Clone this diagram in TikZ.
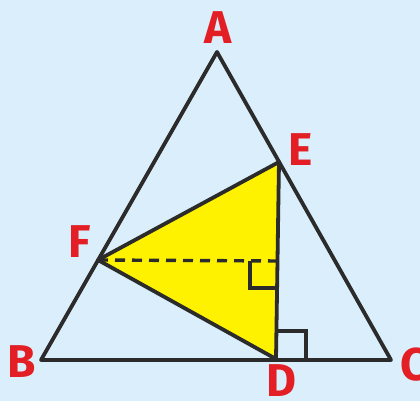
\documentclass[tikz,border=0pt]{standalone}
\usepackage{fontspec}
\setmainfont{Fira Sans}
\definecolor{bg}{HTML}{DAEEFB}
\definecolor{lbl}{HTML}{E31E24}
\definecolor{ln}{HTML}{2B2B2B}
\definecolor{yel}{HTML}{FFF200}
\begin{document}
\begin{tikzpicture}[x=1pt,y=1pt,
  edge/.style={draw=ln,line width=3.8pt,line join=round},
  thin/.style={draw=ln,line width=3.4pt},
  lab/.style={text=lbl,font=\fontsize{46}{46}\selectfont\bfseries,inner sep=0pt}]
\fill[bg] (0,0) rectangle (420,401);
\useasboundingbox (0,0) rectangle (420,401);
\coordinate (A) at (217,349);
\coordinate (B) at (41,41);
\coordinate (C) at (391,41);
\coordinate (D) at (276,42);
\coordinate (E) at (279,239);
\coordinate (F) at (98,141);
\coordinate (G) at (278,140);
\fill[yel] (D) -- (E) -- (F) -- cycle;
\draw[edge] (A) -- (B) -- (C) -- cycle;
\draw[edge] (D) -- (E) -- (F) -- cycle;
\draw[thin,dash pattern=on 10pt off 7pt] (F) -- (G);
\draw[thin] (250,140) -- (250,113) -- (278.5,113);
\draw[thin] (278,70) -- (306,70) -- (306,42);
\node[lab] (la) at (218,373) {A};
\node[lab] (le) at (301,251) {E};
\node[lab] (lf) at (80,159) {F};
\node[lab] (lb) at (22,39) {B};
\node[lab] (ld) at (281,20) {D};
\node[lab] (lc) at (414,36) {C};
\end{tikzpicture}
\end{document}
